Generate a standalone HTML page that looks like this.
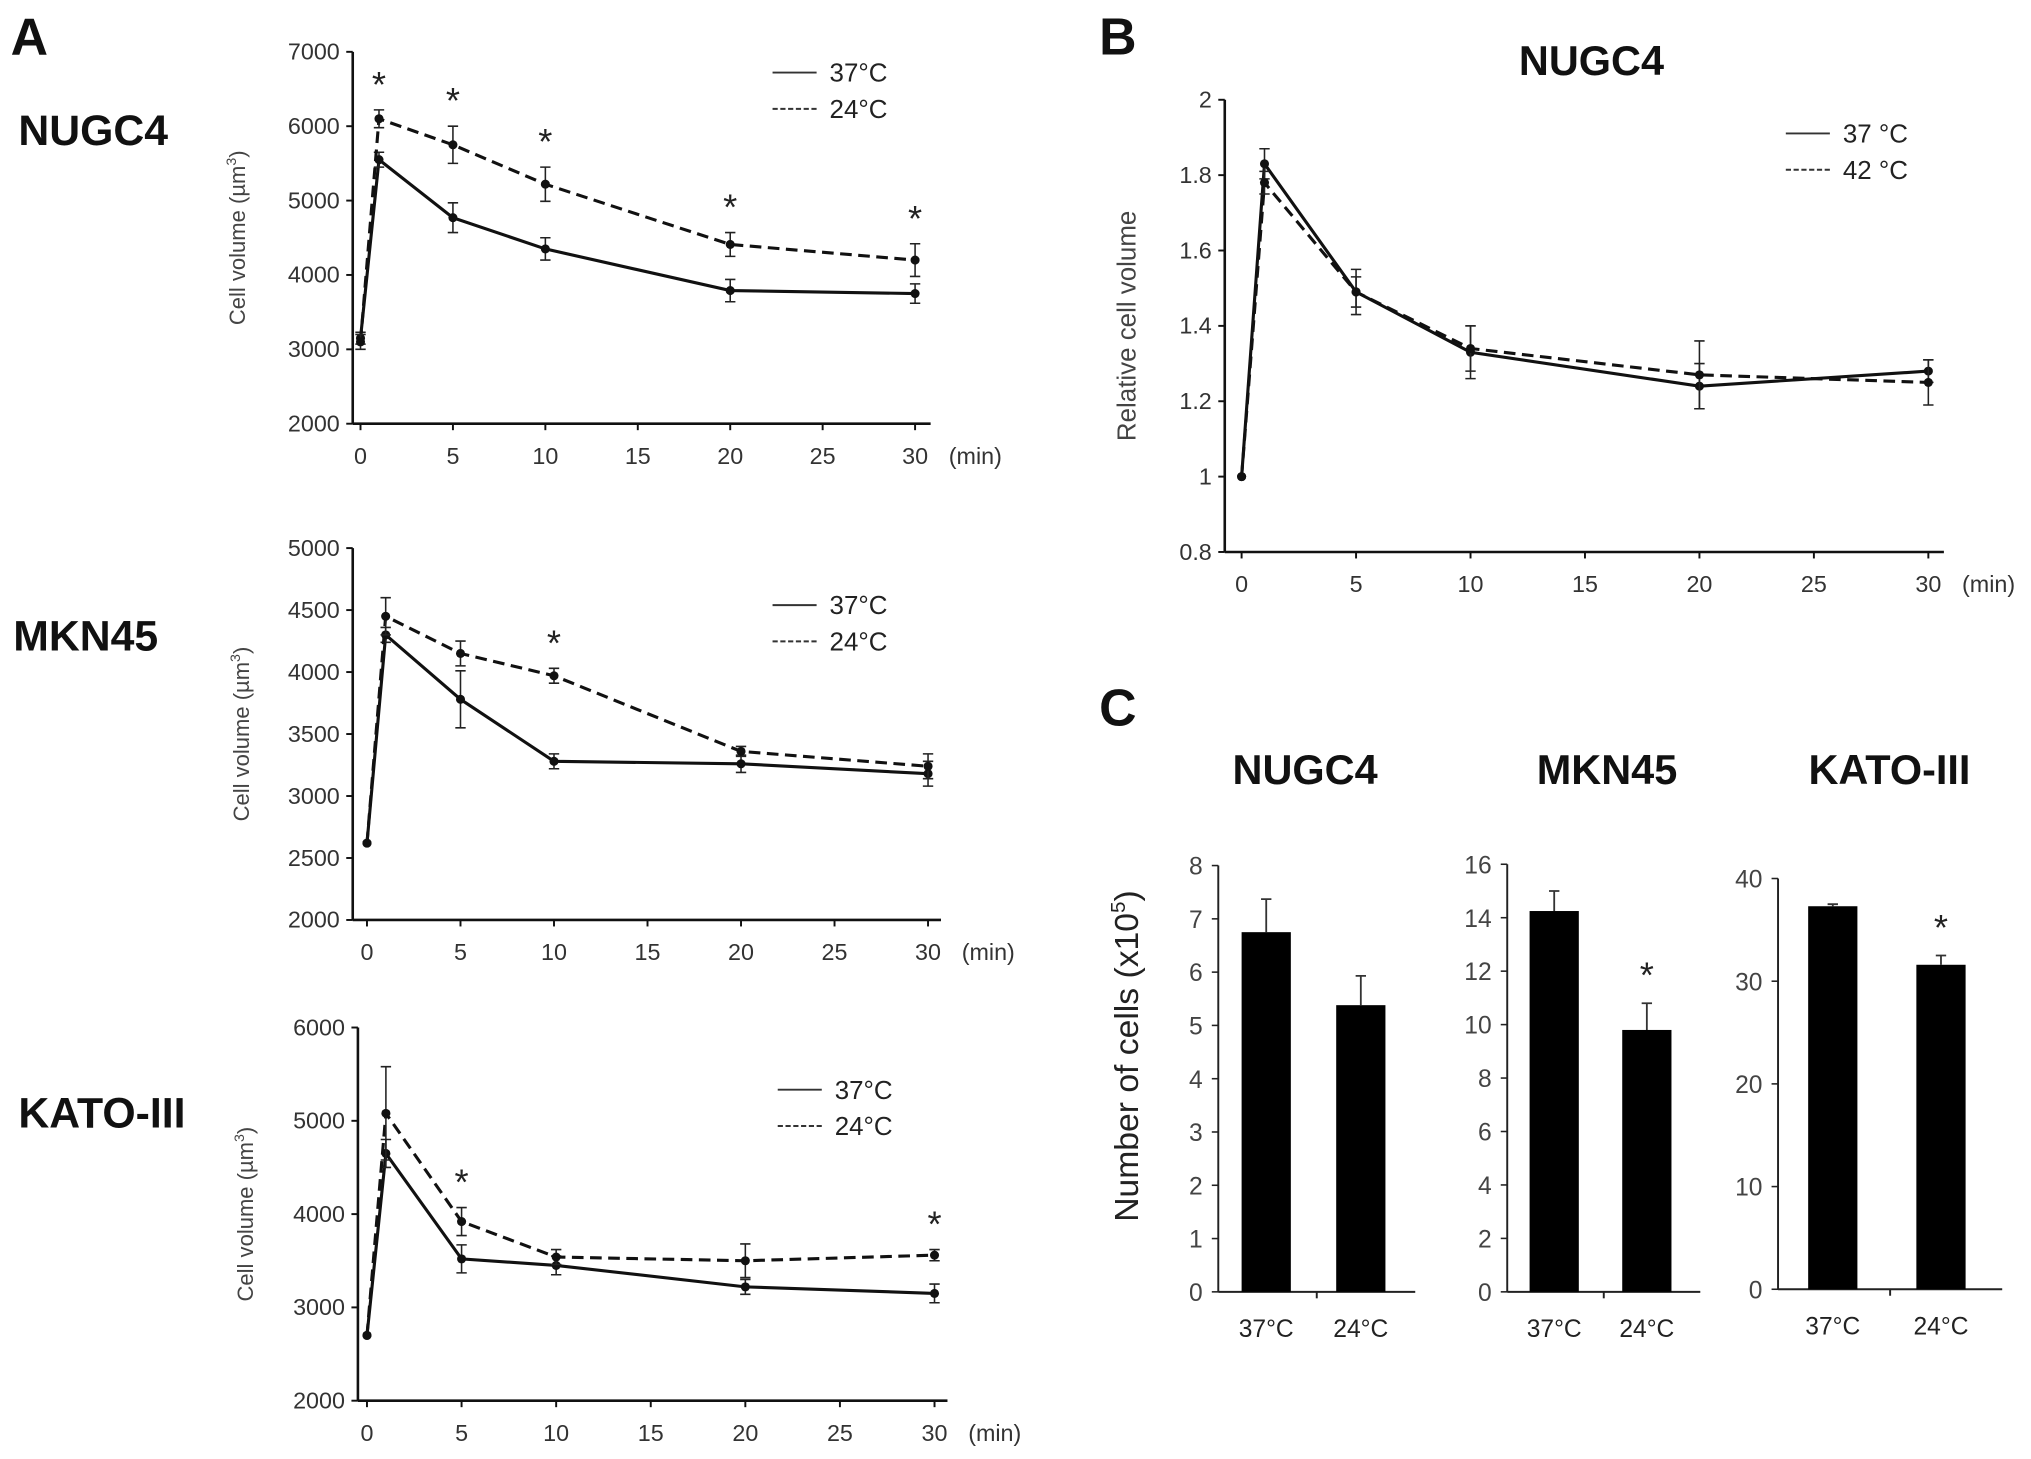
<!DOCTYPE html>
<html><head><meta charset="utf-8"><style>
html,body{margin:0;padding:0;background:#fff;}
svg{display:block;font-family:"Liberation Sans",sans-serif;}
</style></head><body>
<svg id="fig" width="2031" height="1459" viewBox="0 0 1567 1126" xmlns="http://www.w3.org/2000/svg"></svg>
<script>
// ---- data ----
const times = [0, 1, 5, 10, 20, 30];
const xTicks = [0, 5, 10, 15, 20, 25, 30];
const nugcA37 = [3150, 5550, 4770, 4350, 3790, 3750];
const nugcA37Err = [80, 100, 200, 150, 150, 130];
const nugcA24 = [3100, 6100, 5750, 5220, 4410, 4200];
const nugcA24Err = [100, 120, 250, 230, 160, 220];
const nugcAStars = [1, 5, 10, 20, 30];
const nugcATicks = [2000, 3000, 4000, 5000, 6000, 7000];
const mkn37 = [2620, 4300, 3780, 3280, 3260, 3180];
const mkn37Err = [0, 60, 230, 60, 70, 100];
const mkn24 = [2620, 4450, 4150, 3970, 3360, 3240];
const mkn24Err = [0, 150, 100, 60, 40, 100];
const mknStars = [10];
const mknTicks = [2000, 2500, 3000, 3500, 4000, 4500, 5000];
const kato37 = [2700, 4650, 3520, 3450, 3220, 3150];
const kato37Err = [0, 150, 150, 100, 80, 100];
const kato24 = [2700, 5080, 3920, 3540, 3500, 3560];
const kato24Err = [0, 500, 150, 80, 180, 60];
const katoStars = [5, 30];
const katoTicks = [2000, 3000, 4000, 5000, 6000];
const rel37 = [1, 1.83, 1.49, 1.33, 1.24, 1.28];
const rel37Err = [0, 0.04, 0.06, 0.07, 0.06, 0.03];
const rel42 = [1, 1.78, 1.49, 1.34, 1.27, 1.25];
const rel42Err = [0, 0.03, 0.04, 0.06, 0.09, 0.06];
const relTicks = [0.8, 1, 1.2, 1.4, 1.6, 1.8, 2];
const relTickLabels = ["0.8", "1", "1.2", "1.4", "1.6", "1.8", "2"];
const barCats = ["37°C", "24°C"];
const cNugc = [6.75, 5.38];
const cNugcErr = [0.62, 0.55];
const cMkn = [14.25, 9.8];
const cMknErr = [0.75, 1.0];
const cKato = [37.3, 31.6];
const cKatoErr = [0.2, 0.9];
const cNugcTicks = [0, 1, 2, 3, 4, 5, 6, 7, 8];
const cMknTicks = [0, 2, 4, 6, 8, 10, 12, 14, 16];
const cKatoTicks = [0, 10, 20, 30, 40];

const svg = document.getElementById('fig');
const NS = 'http://www.w3.org/2000/svg';
function mk(tag, attrs, parent) {
  const e = document.createElementNS(NS, tag);
  for (const k in attrs) e.setAttribute(k, attrs[k]);
  (parent || svg).appendChild(e);
  return e;
}
function txt(x, y, s, size, anchor, parent, extra) {
  const t = mk('text', Object.assign({x: x, y: y, 'font-size': size, 'text-anchor': anchor || 'start', fill: '#222'}, extra || {}), parent);
  t.textContent = s;
  return t;
}

function lineChart(cfg) {
  const g = mk('g', {});
  
  
  const X = t => cfg.x0 + (t - cfg.tmin) / (cfg.tmax - cfg.tmin) * (cfg.x1 - cfg.x0);
  const Y = v => cfg.yb + (v - cfg.vmin) / (cfg.vmax - cfg.vmin) * (cfg.yt - cfg.yb);
  const ya = mk('line', {x1: cfg.ax, y1: cfg.yt, x2: cfg.ax, y2: cfg.yb, stroke: '#111', 'stroke-width': 2}, g);
  
  
  const xa = mk('line', {x1: cfg.ax, y1: cfg.yb, x2: cfg.axEnd, y2: cfg.yb, stroke: '#111', 'stroke-width': 2}, g);
  
  
  cfg.yticks.forEach((v, i) => {
    mk('line', {x1: cfg.ax - 5, y1: Y(v), x2: cfg.ax, y2: Y(v), stroke: '#111', 'stroke-width': 1.5}, g);
    const t = txt(cfg.ax - 10, Y(v) + 6, cfg.ylabels ? cfg.ylabels[i] : String(v), 18, 'end', g, {fill: '#333'});
    
    
  });
  xTicks.forEach(v => {
    mk('line', {x1: X(v), y1: cfg.yb, x2: X(v), y2: cfg.yb + 5, stroke: '#111', 'stroke-width': 1.5}, g);
    const t = txt(X(v), cfg.yb + 31, String(v), 18, 'middle', g, {fill: '#333'});
    
    
  });
  const mn = txt(X(30) + 26, cfg.yb + 31, '(min)', 18, 'start', g, {fill: '#333'});
  
  
  const yt = txt(0, 0, cfg.ytitle, cfg.ytSize || 17, 'middle', g, {transform: 'translate(' + cfg.ytx + ',' + ((cfg.yt + cfg.yb) / 2) + ') rotate(-90)', fill: '#444'});
  
  
  if (cfg.sup) { const s = mk('tspan', {'font-size': 11, dy: -7}, yt); s.textContent = cfg.sup; const s2 = mk('tspan', {dy: 7}, yt); s2.textContent = ')'; }
  cfg.series.forEach((s, si) => {
    const pts = times.map((t, i) => X(t) + ',' + Y(s.vals[i])).join(' ');
    const pl = mk('polyline', {points: pts, fill: 'none', stroke: '#111', 'stroke-width': 2.4, 'stroke-dasharray': s.dash || 'none'}, g);
    
    
    times.forEach((t, i) => {
      const e = s.err[i];
      if (e > 0) {
        const x = X(t);
        mk('path', {d: 'M' + x + ',' + Y(s.vals[i] - e) + 'V' + Y(s.vals[i] + e) + 'M' + (x - 4) + ',' + Y(s.vals[i] - e) + 'h8M' + (x - 4) + ',' + Y(s.vals[i] + e) + 'h8', stroke: '#222', 'stroke-width': 1.2, fill: 'none'}, g);
      }
      const c = mk('circle', {cx: X(t), cy: Y(s.vals[i]), r: 3.5, fill: '#111'}, g);
      
      
    });
  });
  (cfg.stars || []).forEach(t => {
    const i = times.indexOf(t);
    const top = Math.max(cfg.series[1].vals[i] + cfg.series[1].err[i], cfg.series[0].vals[i] + cfg.series[0].err[i]);
    const st = txt(X(t), Y(top) - 10, '*', 28, 'middle', g, {fill: '#222'});
    
    
  });
  const lg = mk('g', {}, g);
  
  
  cfg.legend.forEach((l, i) => {
    mk('line', {x1: cfg.lx, y1: cfg.ly + i * 28, x2: cfg.lx + 34, y2: cfg.ly + i * 28, stroke: '#333', 'stroke-width': 1.5, 'stroke-dasharray': i ? '4,2' : 'none'}, lg);
    const t = txt(cfg.lx + 44, cfg.ly + i * 28 + 7, l, 20, 'start', lg, {fill: '#222'});
    
    
  });
}

function barChart(cfg) {
  const g = mk('g', {});
  
  
  const vmax = cfg.ticks[cfg.ticks.length - 1];
  const Y = v => cfg.yb + v / vmax * (cfg.yt - cfg.yb);
  mk('line', {x1: cfg.ax, y1: cfg.yt, x2: cfg.ax, y2: cfg.yb, stroke: '#222', 'stroke-width': 1.5}, g);
  mk('line', {x1: cfg.ax, y1: cfg.yb, x2: cfg.axEnd, y2: cfg.yb, stroke: '#222', 'stroke-width': 1.5}, g);
  const mid = (cfg.ax + cfg.axEnd) / 2;
  mk('line', {x1: mid, y1: cfg.yb, x2: mid, y2: cfg.yb + 5, stroke: '#222', 'stroke-width': 1.5}, g);
  cfg.ticks.forEach(v => {
    mk('line', {x1: cfg.ax - 5, y1: Y(v), x2: cfg.ax, y2: Y(v), stroke: '#222', 'stroke-width': 1.2}, g);
    const t = txt(cfg.ax - 12, Y(v) + 7, String(v), 19, 'end', g, {fill: '#444'});
    
    
  });
  const step = (cfg.axEnd - cfg.ax) / 2;
  barCats.forEach((c, i) => {
    const cx = cfg.ax + step * (i + 0.5) + (i ? -4 : -1);
    const v = cfg.vals[i], e = cfg.err[i];
    mk('path', {d: 'M' + cx + ',' + Y(v) + 'V' + Y(v + e) + 'M' + (cx - 4) + ',' + Y(v + e) + 'h8', stroke: '#333', 'stroke-width': 1.4, fill: 'none'}, g);
    const r = mk('rect', {x: cx - 19, y: Y(v), width: 38, height: cfg.yb - Y(v), fill: '#000'}, g);
    
    
    const t = txt(cx, cfg.yb + 35, c, 19, 'middle', g, {fill: '#222'});
    
    
    if (cfg.star && i === 1) {
      const s = txt(cx, Y(v + e) - 12, '*', 28, 'middle', g, {fill: '#222'});
      
      
    }
  });
  const tt = txt(cfg.titleX, 605, cfg.title, 32, 'middle', g, {fill: '#111', 'font-weight': 'bold'});
  
  
}

[['A', 8, 42], ['B', 848, 42], ['C', 848, 560]].forEach(p => {
  const t = txt(p[1], p[2], p[0], 40, 'start', svg, {fill: '#111', 'font-weight': 'bold'});
  
  
});
[['NUGC4', 14, 112], ['MKN45', 10, 502], ['KATO-III', 14, 870]].forEach(p => {
  const t = txt(p[1], p[2], p[0], 33, 'start', svg, {fill: '#111', 'font-weight': 'bold'});
  
  
});

lineChart({name: 'nugc4-volume-chart', ax: 272, axEnd: 718, x0: 278, x1: 706, tmin: 0, tmax: 30, yt: 40, yb: 327, vmin: 2000, vmax: 7000,
  yticks: nugcATicks, ytitle: 'Cell volume (µm', sup: '3', ytx: 189,
  series: [{name: 'temp-37', vals: nugcA37, err: nugcA37Err}, {name: 'temp-24', vals: nugcA24, err: nugcA24Err, dash: '9,5'}],
  stars: nugcAStars, legend: ['37°C', '24°C'], lx: 596, ly: 56});
lineChart({name: 'mkn45-volume-chart', ax: 272, axEnd: 726, x0: 283, x1: 716, tmin: 0, tmax: 30, yt: 423, yb: 710, vmin: 2000, vmax: 5000,
  yticks: mknTicks, ytitle: 'Cell volume (µm', sup: '3', ytx: 192,
  series: [{name: 'temp-37', vals: mkn37, err: mkn37Err}, {name: 'temp-24', vals: mkn24, err: mkn24Err, dash: '9,5'}],
  stars: mknStars, legend: ['37°C', '24°C'], lx: 596, ly: 467});
lineChart({name: 'kato3-volume-chart', ax: 276, axEnd: 731, x0: 283, x1: 721, tmin: 0, tmax: 30, yt: 793, yb: 1081, vmin: 2000, vmax: 6000,
  yticks: katoTicks, ytitle: 'Cell volume (µm', sup: '3', ytx: 195,
  series: [{name: 'temp-37', vals: kato37, err: kato37Err}, {name: 'temp-24', vals: kato24, err: kato24Err, dash: '9,5'}],
  stars: katoStars, legend: ['37°C', '24°C'], lx: 600, ly: 841});
lineChart({name: 'relative-volume-chart', ax: 945, axEnd: 1500, x0: 958, x1: 1488, tmin: 0, tmax: 30, yt: 77, yb: 426, vmin: 0.8, vmax: 2,
  yticks: relTicks, ylabels: relTickLabels, ytitle: 'Relative cell volume', ytSize: 20, ytx: 876,
  series: [{name: 'temp-37', vals: rel37, err: rel37Err}, {name: 'temp-42', vals: rel42, err: rel42Err, dash: '9,5'}],
  stars: [], legend: ['37 °C', '42 °C'], lx: 1378, ly: 103});
const bt = txt(1228, 58, 'NUGC4', 32, 'middle', svg, {fill: '#111', 'font-weight': 'bold'});



barChart({name: 'nugc4-cell-count-chart', ax: 940, axEnd: 1092, yt: 668, yb: 997, ticks: cNugcTicks, vals: cNugc, err: cNugcErr, title: 'NUGC4', titleX: 1007, star: false});
barChart({name: 'mkn45-cell-count-chart', ax: 1163, axEnd: 1312, yt: 667, yb: 997, ticks: cMknTicks, vals: cMkn, err: cMknErr, title: 'MKN45', titleX: 1240, star: true});
barChart({name: 'kato3-cell-count-chart', ax: 1372, axEnd: 1545, yt: 678, yb: 995, ticks: cKatoTicks, vals: cKato, err: cKatoErr, title: 'KATO-III', titleX: 1458, star: true});
const ct = txt(0, 0, 'Number of cells (x10', 26, 'middle', svg, {transform: 'translate(878,815) rotate(-90)', fill: '#222'});


const cs = mk('tspan', {'font-size': 16, dy: -10}, ct); cs.textContent = '5';
const cs2 = mk('tspan', {dy: 10}, ct); cs2.textContent = ')';
</script>
</body></html>
